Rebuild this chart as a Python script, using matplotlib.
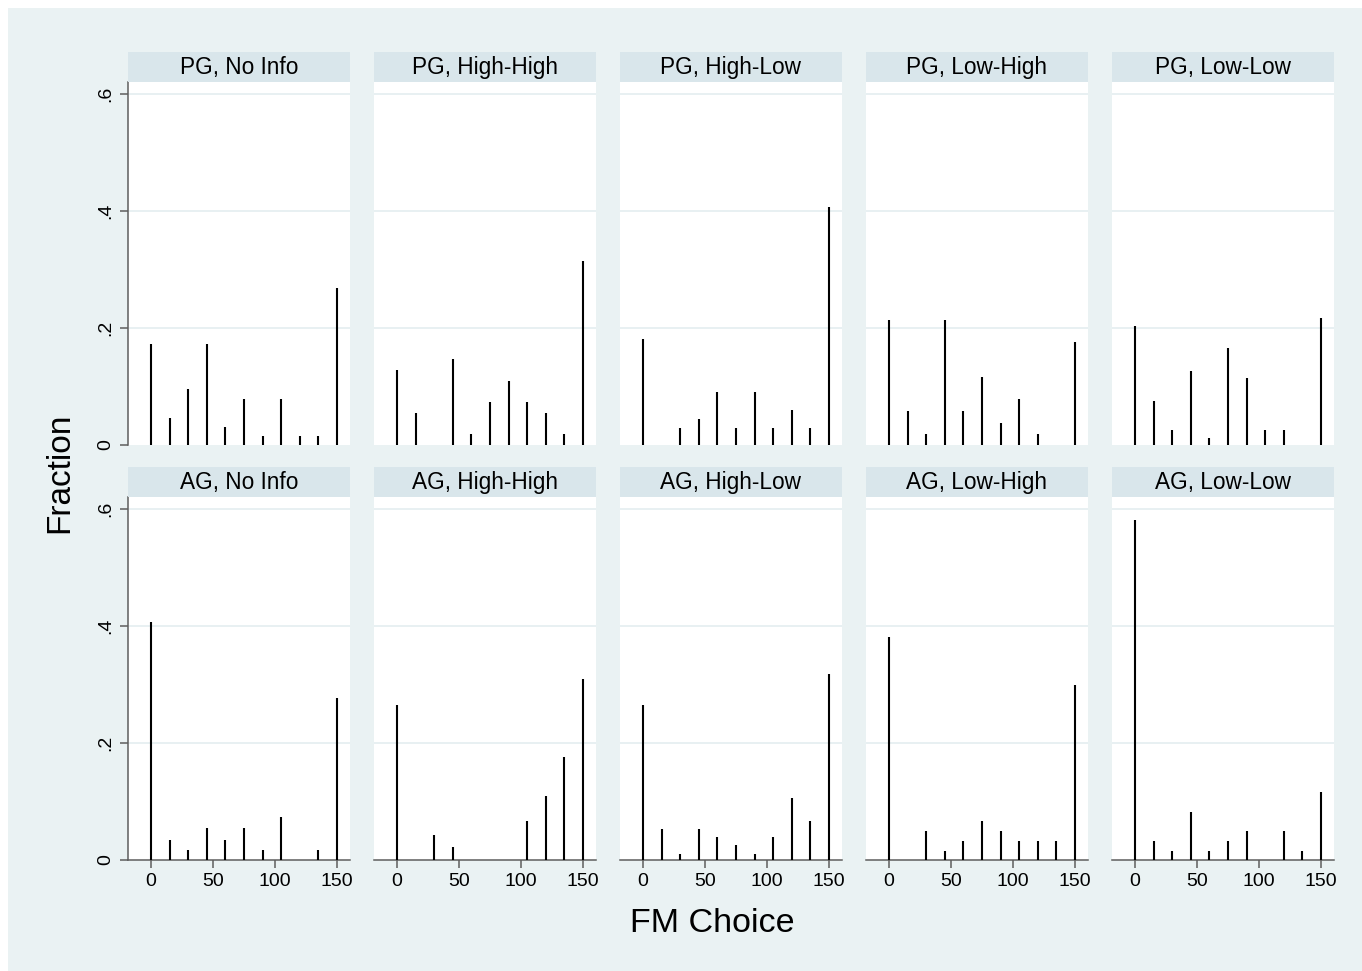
import numpy as np
import matplotlib.pyplot as plt
from matplotlib.patches import Rectangle

plt.rcParams['font.family'] = ['Liberation Sans', 'DejaVu Sans']

# FM choice values (x) and fraction per panel
choices = [0, 15, 30, 45, 60, 75, 90, 105, 120, 135, 150]

pg_noinfo = [0.173, 0.047, 0.095, 0.173, 0.031, 0.079, 0.016, 0.079, 0.016, 0.016, 0.269]
pg_hh = [0.129, 0.055, 0, 0.147, 0.018, 0.074, 0.110, 0.074, 0.055, 0.018, 0.314]
pg_hl = [0.182, 0, 0.029, 0.045, 0.091, 0.029, 0.091, 0.029, 0.060, 0.029, 0.408]
pg_lh = [0.214, 0.059, 0.019, 0.214, 0.059, 0.117, 0.038, 0.078, 0.019, 0, 0.176]
pg_ll = [0.204, 0.076, 0.026, 0.127, 0.012, 0.166, 0.115, 0.026, 0.026, 0, 0.218]

ag_noinfo = [0.407, 0.035, 0.017, 0.054, 0.035, 0.054, 0.017, 0.073, 0, 0.017, 0.277]
ag_hh = [0.266, 0, 0.043, 0.022, 0, 0, 0, 0.067, 0.110, 0.177, 0.310]
ag_hl = [0.266, 0.053, 0.011, 0.053, 0.039, 0.025, 0.011, 0.039, 0.106, 0.067, 0.319]
ag_lh = [0.382, 0, 0.050, 0.015, 0.033, 0.067, 0.050, 0.033, 0.033, 0.033, 0.299]
ag_ll = [0.582, 0.033, 0.015, 0.082, 0.015, 0.033, 0.050, 0, 0.050, 0.015, 0.116]

titles = [["PG, No Info", "PG, High-High", "PG, High-Low", "PG, Low-High", "PG, Low-Low"],
          ["AG, No Info", "AG, High-High", "AG, High-Low", "AG, Low-High", "AG, Low-Low"]]
series = [[pg_noinfo, pg_hh, pg_hl, pg_lh, pg_ll],
          [ag_noinfo, ag_hh, ag_hl, ag_lh, ag_ll]]

yticks = [0, 0.2, 0.4, 0.6]
ylabels = ["0", ".2", ".4", ".6"]
xticks = [0, 50, 100, 150]

BG = "#EAF2F3"
STRIP = "#D9E6EB"
GRID = "#E4EDF0"
AXC = "#5E5E5E"

W, H = 1362, 971
fig = plt.figure(figsize=(W / 100, H / 100), dpi=100, facecolor="white")
fig.patches.append(Rectangle((8 / W, 0), 1 - 8 / W, 1 - 8 / H, transform=fig.transFigure,
                             facecolor=BG, edgecolor="none", zorder=-10))

lefts = [128, 374, 620, 866, 1112]
pw = 222
rows_top = [82, 497]   # pixel top of plot area
ph = 363
strip_h = 30

for r in range(2):
    for c in range(5):
        l = lefts[c]
        t = rows_top[r]
        ax = fig.add_axes([l / W, 1 - (t + ph) / H, pw / W, ph / H])
        ax.set_facecolor("white")
        vals = np.array(series[r][c])
        x = np.array(choices)
        m = vals > 0
        ax.vlines(x[m], 0, vals[m], color="black", lw=1.5, zorder=3)
        ax.set_xlim(-18.5, 160.5)
        ax.set_ylim(0, 0.621)
        for g in [0.2, 0.4, 0.6]:
            ax.axhline(g, color=GRID, lw=1.2, zorder=1)
        for s in ax.spines.values():
            s.set_visible(False)
        ax.set_yticks(yticks)
        if c == 0:
            ax.spines["left"].set_visible(True)
            ax.spines["left"].set_color(AXC)
            ax.spines["left"].set_linewidth(1.1)
            ax.set_yticklabels(ylabels, rotation=90, va="center", fontsize=14)
            ax.tick_params(axis="y", length=6, width=1.1, color=AXC, pad=4)
        else:
            ax.tick_params(axis="y", left=False, labelleft=False)
        ax.set_xticks(xticks)
        if r == 1:
            ax.spines["bottom"].set_visible(True)
            ax.spines["bottom"].set_color(AXC)
            ax.spines["bottom"].set_linewidth(1.1)
            ax.tick_params(axis="x", length=6, width=1.1, color=AXC, pad=3, labelsize=14)
        else:
            ax.tick_params(axis="x", bottom=False, labelbottom=False)

        # strip header
        sax = fig.add_axes([l / W, 1 - t / H, pw / W, strip_h / H])
        sax.set_facecolor(STRIP)
        sax.set_xticks([])
        sax.set_yticks([])
        for s in sax.spines.values():
            s.set_visible(False)
        sax.text(0.5, 0.5, titles[r][c], ha="center", va="center", fontsize=16.3,
                 transform=sax.transAxes)

fig.text(712 / W, 1 - 923 / H, "FM Choice", ha="center", va="center", fontsize=24.5)
fig.text(60 / W, 1 - 473 / H, "Fraction", ha="center", va="center", fontsize=24, rotation=90)

fig.savefig("out.png", dpi=100, facecolor=fig.get_facecolor())
